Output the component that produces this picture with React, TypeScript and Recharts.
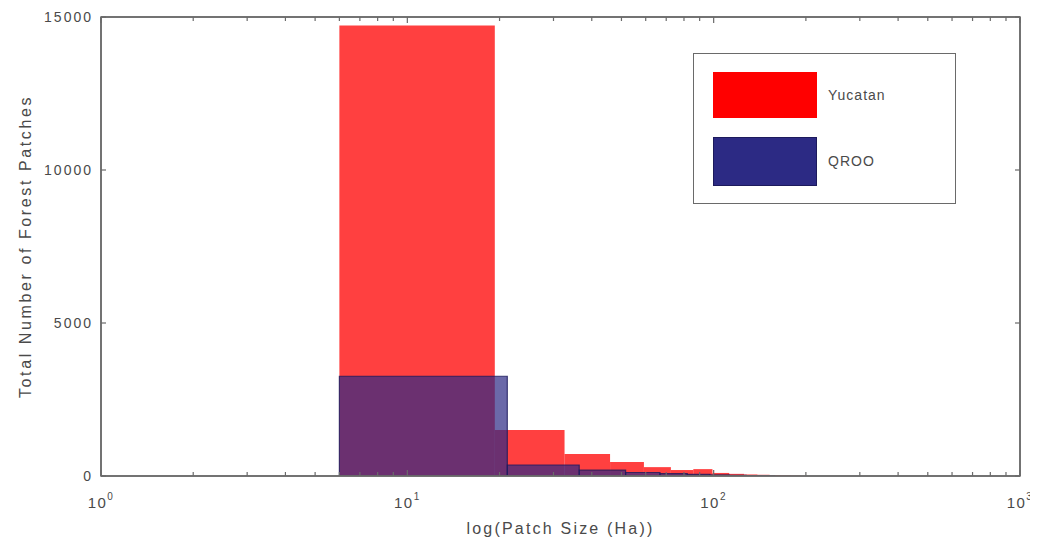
import React from 'react';
import { ComposedChart, XAxis, YAxis, ReferenceArea, Legend, Label, Line } from 'recharts';

// Yucatan histogram: bin edges (Ha) and counts
const yucatanEdges = [6, 19.3, 32.6, 45.9, 59.2, 72.5, 85.8, 99.1, 112.4, 125.7, 139, 152.3, 165.6, 178.9, 192.2];
const yucatanCounts = [14720, 1500, 720, 460, 290, 195, 225, 100, 70, 50, 40, 30, 20, 12];

// QROO histogram: bin edges (Ha) and counts
const qrooEdges = [6, 21.2, 36.4, 51.6, 66.8, 82, 97.2, 112.4, 127.6, 142.8, 158];
const qrooCounts = [3260, 360, 190, 115, 75, 50, 35, 22, 14, 9];

const xTicks = [1, 2, 3, 4, 5, 6, 7, 8, 9, 10, 20, 30, 40, 50, 60, 70, 80, 90, 100, 200, 300, 400, 500, 600, 700, 800, 900, 1000];
const yTicks = [0, 5000, 10000, 15000];
const xDomain = [1, 1000];
const yDomain = [0, 15000];

const seriesNames = ['Yucatan', 'QROO'];
const seriesColors = ['#ff0000', '#2c2a84'];

const axisColor = '#6a6a6a';
const textColor = '#4a4a4a';
const FONT = 'Liberation Sans, Arial, sans-serif';

const dummyData = [{ x: 1, y: 0 }, { x: 1000, y: 0 }];

const isMajor = (v: number) => [1, 10, 100, 1000].includes(v);

const BottomTick = (props: any) => {
  const { x, y, payload } = props;
  const v = payload.value;
  const major = isMajor(v);
  const len = major ? 6 : 4;
  const exp = Math.round(Math.log10(v));
  return (
    <g>
      <line x1={x} x2={x} y1={y} y2={y - len} stroke={axisColor} strokeWidth={1.2} />
      {major && (
        <text x={x} y={y + 32} textAnchor="middle" fill={textColor} fontSize={15} fontFamily={FONT} letterSpacing={1.5}>
          10
          <tspan dy={-8} fontSize={10}>{exp}</tspan>
        </text>
      )}
    </g>
  );
};

const TopTick = (props: any) => {
  const { x, y, payload } = props;
  const major = isMajor(payload.value);
  const len = major ? 6 : 4;
  return <line x1={x} x2={x} y1={y} y2={y + len} stroke={axisColor} strokeWidth={1.2} />;
};

const LeftTick = (props: any) => {
  const { x, y, payload } = props;
  return (
    <g>
      <line x1={x} x2={x + 5} y1={y} y2={y} stroke={axisColor} strokeWidth={1.2} />
      <text x={x - 8} y={y + 5} textAnchor="end" fill={textColor} fontSize={14} fontFamily={FONT} letterSpacing={2}>
        {payload.value}
      </text>
    </g>
  );
};

const RightTick = (props: any) => {
  const { x, y } = props;
  return <line x1={x} x2={x - 5} y1={y} y2={y} stroke={axisColor} strokeWidth={1.2} />;
};

const LegendBox = () => (
  <div
    style={{
      width: 261,
      height: 149,
      border: `1.5px solid ${axisColor}`,
      background: '#fff',
      position: 'relative',
      fontFamily: FONT,
      fontSize: 14,
      color: textColor,
    }}
  >
    {seriesNames.map((name, i) => (
      <React.Fragment key={name}>
        <div
          style={{
            position: 'absolute',
            left: 19,
            top: i === 0 ? 18 : 83,
            width: 104,
            height: i === 0 ? 46 : 49,
            background: seriesColors[i],
            border: i === 1 ? '1px solid #1c1a5c' : 'none',
            boxSizing: 'border-box',
          }}
        />
        <div style={{ position: 'absolute', left: 134, top: i === 0 ? 33 : 99, letterSpacing: 1 }}>{name}</div>
      </React.Fragment>
    ))}
  </div>
);

export default function App() {
  return (
    <div style={{ width: 1030, height: 537, background: '#fff', position: 'relative' }}>
      <ComposedChart width={1030} height={537} data={dummyData} margin={{ top: 8, right: 17, bottom: 9, left: 0 }}>
        <XAxis
          xAxisId={0}
          dataKey="x"
          type="number"
          scale="log"
          domain={xDomain}
          allowDataOverflow
          ticks={xTicks}
          interval={0}
          tick={<BottomTick />}
          tickLine={false}
          tickSize={0}
          tickMargin={0}
          axisLine={{ stroke: axisColor, strokeWidth: 1.5 }}
          height={60}
        >
          <Label value="log(Patch Size (Ha))" position="insideBottom" offset={2} fill={textColor} fontSize={16} fontFamily={FONT} letterSpacing={2.2} />
        </XAxis>
        <XAxis
          xAxisId="top"
          orientation="top"
          dataKey="x"
          type="number"
          scale="log"
          domain={xDomain}
          allowDataOverflow
          ticks={xTicks}
          interval={0}
          tick={<TopTick />}
          tickLine={false}
          tickSize={0}
          tickMargin={0}
          axisLine={{ stroke: axisColor, strokeWidth: 1.5 }}
          height={1}
        />
        <YAxis
          yAxisId={0}
          type="number"
          domain={yDomain}
          allowDataOverflow
          ticks={yTicks}
          interval={0}
          tick={<LeftTick />}
          tickLine={false}
          tickSize={0}
          tickMargin={0}
          axisLine={{ stroke: axisColor, strokeWidth: 1.5 }}
          width={93}
        >
          <Label value="Total Number of Forest Patches" angle={-90} position="insideLeft" offset={17} fill={textColor} fontSize={16} fontFamily={FONT} letterSpacing={2.6} style={{ textAnchor: 'middle' }} />
        </YAxis>
        <YAxis
          yAxisId="right"
          orientation="right"
          type="number"
          domain={yDomain}
          allowDataOverflow
          ticks={yTicks}
          interval={0}
          tick={<RightTick />}
          tickLine={false}
          tickSize={0}
          tickMargin={0}
          axisLine={{ stroke: axisColor, strokeWidth: 1.5 }}
          width={1}
        />
        <Line dataKey="y" xAxisId={0} yAxisId={0} stroke="none" dot={false} isAnimationActive={false} legendType="none" />
        <Line dataKey="y" xAxisId="top" yAxisId="right" stroke="none" dot={false} isAnimationActive={false} legendType="none" />
        {yucatanCounts.map((c, i) => (
          <ReferenceArea
            key={`y${i}`}
            xAxisId={0}
            yAxisId={0}
            x1={yucatanEdges[i]}
            x2={yucatanEdges[i + 1]}
            y1={0}
            y2={c}
            fill={seriesColors[0]}
            fillOpacity={0.75}
            stroke="none"
            ifOverflow="hidden"
          />
        ))}
        {qrooCounts.map((c, i) => (
          <ReferenceArea
            key={`q${i}`}
            xAxisId={0}
            yAxisId={0}
            x1={qrooEdges[i]}
            x2={qrooEdges[i + 1]}
            y1={0}
            y2={c}
            fill={seriesColors[1]}
            fillOpacity={0.7}
            stroke="#1c1a5c"
            strokeOpacity={0.8}
            strokeWidth={1.2}
            ifOverflow="hidden"
          />
        ))}
        <ReferenceArea
          xAxisId={0}
          yAxisId={0}
          x1={xDomain[0]}
          x2={xDomain[1]}
          y1={yDomain[0]}
          y2={yDomain[1]}
          fill="none"
          stroke={axisColor}
          strokeWidth={1.5}
          ifOverflow="visible"
        />
        <Legend
          layout="horizontal"
          verticalAlign="middle"
          align="center"
          content={<LegendBox />}
          wrapperStyle={{ position: 'absolute', left: 685, top: 45, width: 264, height: 152 }}
        />
      </ComposedChart>
    </div>
  );
}
